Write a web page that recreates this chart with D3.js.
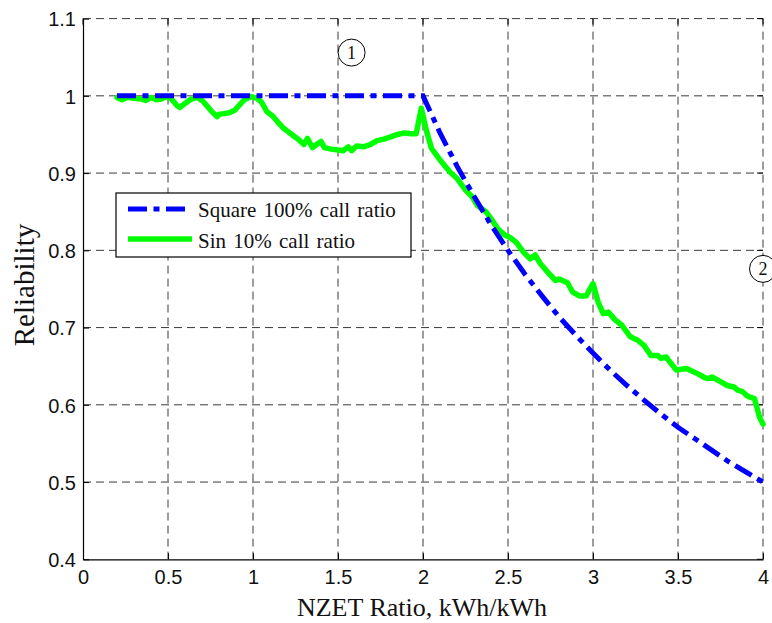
<!DOCTYPE html>
<html>
<head>
<meta charset="utf-8">
<script src="https://cdn.jsdelivr.net/npm/d3@7/dist/d3.min.js"></script>
<style>
  html, body { margin: 0; padding: 0; background: #fff; }
  svg { display: block; }
</style>
</head>
<body>
<svg id="chart" width="772" height="623"></svg>
<script>
// ---- data ----
const xTicks = [0, 0.5, 1, 1.5, 2, 2.5, 3, 3.5, 4];
const yTicks = [0.4, 0.5, 0.6, 0.7, 0.8, 0.9, 1.0, 1.1];
const xTickLabels = ["0", "0.5", "1", "1.5", "2", "2.5", "3", "3.5", "4"];
const yTickLabels = ["0.4", "0.5", "0.6", "0.7", "0.8", "0.9", "1", "1.1"];
const seriesNames = ["Square 100% call ratio", "Sin 10% call ratio"];

const squareX = [0.2, 2.0, 2.1, 2.2, 2.3, 2.4, 2.5, 2.6, 2.7, 2.8, 2.9, 3.0, 3.1, 3.2, 3.3, 3.4, 3.5, 3.6, 3.7, 3.8, 3.9, 4.0];
const squareY = [1.0, 1.0, 0.952, 0.909, 0.870, 0.833, 0.800, 0.769, 0.741, 0.714, 0.690, 0.667, 0.645, 0.625, 0.606, 0.588, 0.571, 0.556, 0.541, 0.526, 0.513, 0.500];

const sinX = [0.20,0.23,0.26,0.30,0.34,0.37,0.40,0.43,0.46,0.49,0.52,0.55,0.57,0.60,0.63,0.67,0.70,0.73,0.76,0.79,0.80,0.83,0.86,0.89,0.92,0.95,0.99,
  1.02,1.05,1.08,1.12,1.15,1.18,1.21,1.24,1.27,1.30,1.32,1.35,1.38,1.40,1.42,1.46,1.50,1.53,1.56,1.58,1.61,1.65,1.69,1.73,1.77,1.81,1.85,1.89,1.93,1.96,1.99,
  2.02,2.05,2.10,2.16,2.20,2.25,2.29,2.32,2.37,2.40,2.44,2.48,2.51,2.55,2.59,2.63,2.66,2.69,2.74,2.78,2.80,2.85,2.88,2.92,2.96,
  3.00,3.03,3.06,3.09,3.13,3.17,3.22,3.26,3.30,3.34,3.38,3.40,3.43,3.45,3.49,3.55,3.61,3.65,3.67,3.70,3.75,3.79,3.83,3.85,3.88,3.91,3.95,3.98,4.00];
const sinY = [0.998,0.995,0.998,0.997,0.996,0.994,0.998,0.995,0.996,0.999,0.996,0.988,0.985,0.990,0.995,0.998,0.994,0.987,0.979,0.973,0.976,0.977,0.978,0.981,0.988,0.995,0.999,
  0.997,0.992,0.980,0.973,0.965,0.958,0.953,0.948,0.943,0.937,0.945,0.933,0.938,0.941,0.933,0.931,0.930,0.929,0.934,0.929,0.935,0.934,0.937,0.942,0.944,0.947,0.950,0.952,0.951,0.951,0.984,
  0.955,0.932,0.917,0.901,0.893,0.878,0.869,0.858,0.850,0.841,0.828,0.820,0.817,0.810,0.798,0.789,0.794,0.783,0.770,0.761,0.763,0.758,0.746,0.741,0.741,
  0.757,0.733,0.718,0.720,0.710,0.703,0.688,0.684,0.677,0.664,0.664,0.660,0.662,0.656,0.645,0.647,0.641,0.636,0.634,0.636,0.630,0.625,0.623,0.619,0.617,0.611,0.608,0.584,0.575];

const annotations = [
  {label: "1", x: 1.58, y: 1.056},
  {label: "2", x: 4.0, y: 0.776}
];

// ---- layout ----
const svg = d3.select("#chart");
const L = 83, R = 763, T = 18.6, B = 559.3;
const x = d3.scaleLinear().domain([0, 4]).range([L, R]);
const y = d3.scaleLinear().domain([0.4, 1.1]).range([B, T]);

const gridColor = "#3a3a3a";

// grid (dashed)
const grid = svg.append("g");
grid.selectAll("line.v").data(xTicks.filter(d => d > 0)).join("line")
  .attr("x1", d => x(d)).attr("x2", d => x(d)).attr("y1", T).attr("y2", B)
  .attr("stroke", gridColor).attr("stroke-width", 1).attr("stroke-dasharray", "8,5");
grid.selectAll("line.h").data(yTicks.filter(d => d > 0.4)).join("line")
  .attr("y1", d => y(d)).attr("y2", d => y(d)).attr("x1", L).attr("x2", R)
  .attr("stroke", gridColor).attr("stroke-width", 1).attr("stroke-dasharray", "8,5");

// axes using d3 axis
const fontSans = "'Liberation Sans', Arial, sans-serif";
const fontSerif = "'Liberation Serif', 'Times New Roman', serif";

const xAxis = svg.append("g").attr("transform", `translate(0,${B})`)
  .call(d3.axisBottom(x).tickValues(xTicks).tickFormat((d, i) => xTickLabels[i]).tickSizeInner(-6).tickSizeOuter(0).tickPadding(10));
const yAxis = svg.append("g").attr("transform", `translate(${L},0)`)
  .call(d3.axisLeft(y).tickValues(yTicks).tickFormat((d, i) => yTickLabels[i]).tickSizeInner(-6).tickSizeOuter(0).tickPadding(7));
[xAxis, yAxis].forEach(g => {
  g.select(".domain").attr("stroke", "#000").attr("stroke-width", 1.2);
  g.selectAll(".tick line").attr("stroke", "#000");
  g.selectAll(".tick text").attr("fill", "#111").style("font-family", fontSans).style("font-size", "20px");
});
xAxis.selectAll(".tick text").attr("dy", "0.72em");
yAxis.selectAll(".tick text").attr("dy", "0.36em");

// top & right ticks
const topRight = svg.append("g");
topRight.selectAll("line.tt").data(xTicks).join("line")
  .attr("x1", d => x(d)).attr("x2", d => x(d)).attr("y1", T).attr("y2", T + 6).attr("stroke", "#000");
topRight.selectAll("line.rt").data(yTicks).join("line")
  .attr("x1", R - 6).attr("x2", R).attr("y1", d => y(d)).attr("y2", d => y(d)).attr("stroke", "#000");

// series
const line = d3.line().x(d => x(d[0])).y(d => y(d[1]));
const squareData = squareX.map((v, i) => [v, squareY[i]]);
const sinData = sinX.map((v, i) => [v, sinY[i]]);

svg.append("path").datum(sinData).attr("d", line)
  .attr("fill", "none").attr("stroke", "#00ff00").attr("stroke-width", 5.5)
  .attr("stroke-linejoin", "round").attr("stroke-linecap", "round");

svg.append("path").datum(squareData).attr("d", line)
  .attr("fill", "none").attr("stroke", "#0000ff").attr("stroke-width", 5)
  .attr("stroke-dasharray", "19,6.5,6,6.5");

// legend
const lg = svg.append("g");
lg.append("rect").attr("x", 116).attr("y", 193).attr("width", 295).attr("height", 64)
  .attr("fill", "#fff").attr("stroke", "#000").attr("stroke-width", 1.2);
lg.append("line").attr("x1", 128).attr("x2", 187).attr("y1", 209).attr("y2", 209)
  .attr("stroke", "#0000ff").attr("stroke-width", 5).attr("stroke-dasharray", "19,6.5,6,6.5");
lg.append("line").attr("x1", 128).attr("x2", 192).attr("y1", 239).attr("y2", 239)
  .attr("stroke", "#00ff00").attr("stroke-width", 5.5);
lg.selectAll("text").data(seriesNames).join("text")
  .attr("x", 198).attr("y", (d, i) => 217 + i * 31)
  .style("font-family", fontSerif).style("font-size", "21px").style("word-spacing", "2px")
  .attr("fill", "#111").text(d => d);

// annotations (circled numbers)
const an = svg.append("g");
annotations.forEach(a => {
  an.append("circle").attr("cx", x(a.x)).attr("cy", y(a.y)).attr("r", 13.5)
    .attr("fill", "#fff").attr("stroke", "#000").attr("stroke-width", 1);
  an.append("text").attr("x", x(a.x)).attr("y", y(a.y)).attr("dy", "0.35em")
    .attr("text-anchor", "middle").style("font-family", fontSerif).style("font-size", "18px")
    .attr("fill", "#111").text(a.label);
});

// axis titles
svg.append("text").attr("x", 422).attr("y", 616).attr("text-anchor", "middle")
  .style("font-family", fontSerif).style("font-size", "26px").attr("fill", "#111")
  .text("NZET Ratio, kWh/kWh");
svg.append("text").attr("transform", "translate(34,285) rotate(-90)").attr("text-anchor", "middle")
  .style("font-family", fontSerif).style("font-size", "29px").attr("fill", "#111")
  .text("Reliability");
</script>
</body>
</html>
